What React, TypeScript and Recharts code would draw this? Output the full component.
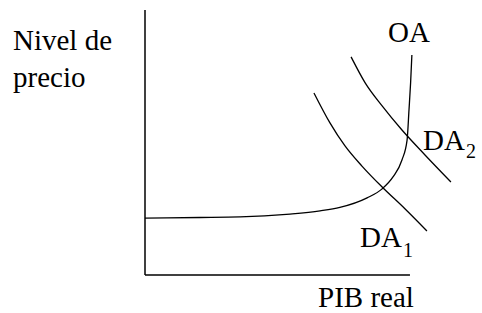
import { LineChart, Line, XAxis, YAxis, ReferenceLine } from 'recharts'

// Curves, in chart units (x and y both 0..100)
const oaX = [0, 17.2, 29.7, 45.3, 54.7, 60.9, 69.4, 74.1, 77.5, 80.3, 81.9, 82.5, 83.0, 83.4]
const oaY = [21.5, 21.7, 21.9, 23.0, 24.2, 25.5, 29.1, 32.5, 37.0, 43.4, 50.9, 62.3, 72.5, 83.0]

const da1X = [52.8, 57.8, 62.5, 67.8, 74.1, 81.3, 88.1]
const da1Y = [68.7, 57.4, 48.7, 41.1, 33.2, 24.9, 16.6]

const da2X = [64.4, 68.8, 74.1, 80.3, 87.5, 95.6]
const da2Y = [82.3, 72.5, 63.8, 54.7, 45.3, 35.1]

const xAxisEnd = 82.8

const toPoints = (xs: number[], ys: number[]) => xs.map((x, i) => ({ x, y: ys[i] }))

function Txt({ x, y, size = 29, children }: { x: number; y: number; size?: number; children: string }) {
  return (
    <text x={x} y={y} fill="#000" fontFamily="Liberation Serif" fontSize={size}>
      {children}
    </text>
  )
}

export default function App() {
  const oa = toPoints(oaX, oaY)
  const da1 = toPoints(da1X, da1Y)
  const da2 = toPoints(da2X, da2Y)

  return (
    <div style={{ position: 'absolute', left: 0, top: 0, width: 482, height: 313, background: '#fff' }}>
      <LineChart width={482} height={313} margin={{ top: 10, right: 17, bottom: 38, left: 145 }}>
        <XAxis dataKey="x" type="number" domain={[0, 100]} hide />
        <YAxis type="number" domain={[0, 100]} hide />
        <ReferenceLine segment={[{ x: 0, y: 0 }, { x: 0, y: 100 }]} stroke="#000" strokeWidth={1.5} />
        <ReferenceLine segment={[{ x: 0, y: 0 }, { x: xAxisEnd, y: 0 }]} stroke="#000" strokeWidth={1.5} />
        <Line data={oa} dataKey="y" type="monotone" stroke="#000" strokeWidth={1.3} dot={false} activeDot={false} isAnimationActive={false} />
        <Line data={da1} dataKey="y" type="monotone" stroke="#000" strokeWidth={1.3} dot={false} activeDot={false} isAnimationActive={false} />
        <Line data={da2} dataKey="y" type="monotone" stroke="#000" strokeWidth={1.3} dot={false} activeDot={false} isAnimationActive={false} />
      </LineChart>

      {/* labels sit in their own layer on top of the chart */}
      <svg width={482} height={313} style={{ position: 'absolute', left: 0, top: 0, pointerEvents: 'none' }}>
        <Txt x={13} y={50}>Nivel de</Txt>
        <Txt x={13} y={87}>precio</Txt>
        <Txt x={388} y={42}>OA</Txt>
        <Txt x={423} y={150}>DA</Txt>
        <Txt x={466} y={158} size={20}>2</Txt>
        <Txt x={360} y={247}>DA</Txt>
        <Txt x={403} y={257} size={20}>1</Txt>
        <Txt x={318} y={307}>PIB real</Txt>
      </svg>
    </div>
  )
}
